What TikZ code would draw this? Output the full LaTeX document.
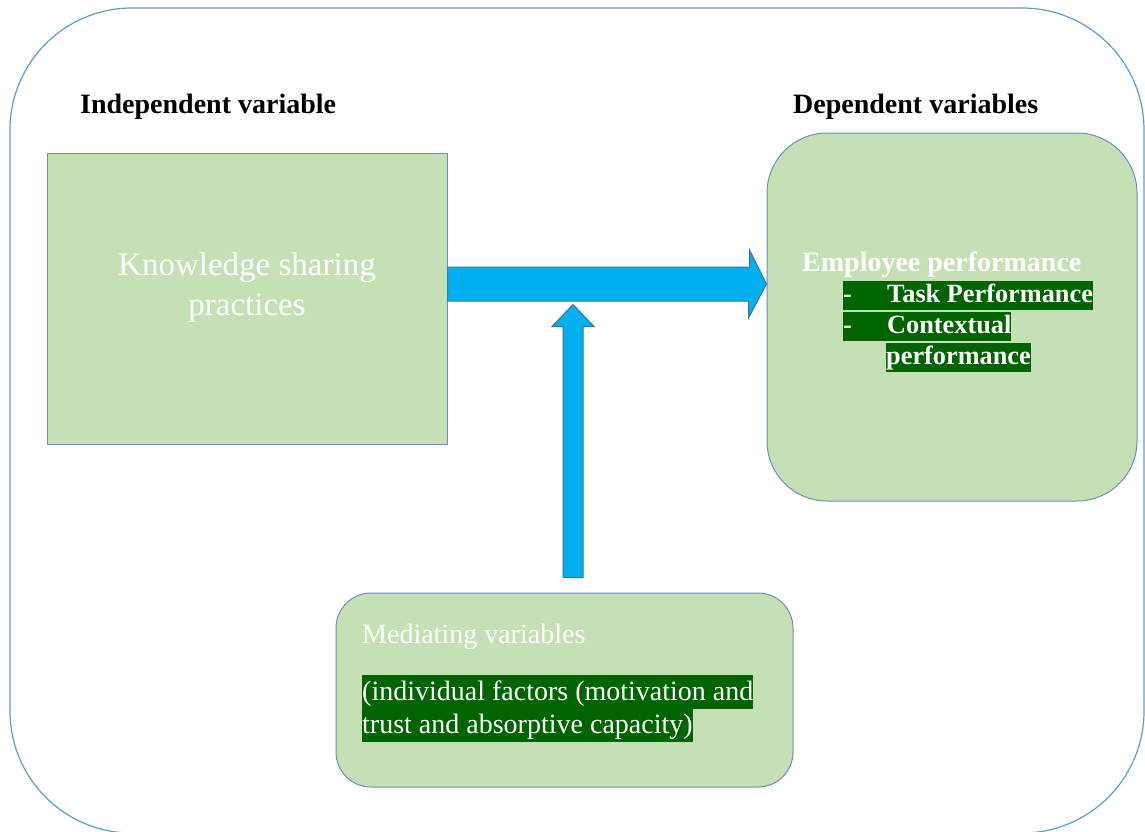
\documentclass[tikz,border=0pt]{standalone}
\usepackage{fontspec}
\setmainfont{Liberation Serif}
\usetikzlibrary{calc}
\definecolor{boxgreen}{HTML}{C5E0B4}
\definecolor{boxline}{HTML}{6C8EBA}
\definecolor{frameblue}{HTML}{5B9BD5}
\definecolor{arrowblue}{HTML}{00B0F0}
\definecolor{arrowline}{HTML}{41719C}
\definecolor{hlgreen}{HTML}{006400}
\tikzstyle{varbox}=[draw=boxline,fill=boxgreen,line width=1pt,inner sep=0pt]
\tikzstyle{heading}=[font=\fontsize{28}{32}\selectfont\bfseries,anchor=base west,inner sep=0pt]
\tikzstyle{plain}=[text=white,font=\fontsize{28}{32}\selectfont,anchor=base west,inner sep=0pt]
\tikzstyle{marked}=[plain,fill=hlgreen,text height=21pt,text depth=8pt]
\tikzstyle{blockarrow}=[draw=arrowline,fill=arrowblue,line width=1pt,line join=miter]

\begin{document}
\begin{tikzpicture}[x=1pt,y=-1pt]
    \useasboundingbox (0,0) rectangle (1145,831);
    \clip (0,0) rectangle (1145,831);
    % Draw the outer frame
    \draw[frameblue,line width=1.2pt,rounded corners=122pt] (10,8) rectangle (1144,833);
    % First we draw the variable boxes
    \node[varbox,minimum width=400pt,minimum height=291pt] (know) at (247,298.5) {};
    \node[varbox,rounded corners=60pt,minimum width=370pt,minimum height=368pt] (perf) at (952,317) {};
    \node[varbox,rounded corners=35pt,minimum width=457pt,minimum height=194pt] (med) at (564.5,690) {};
    % Headings and texts
    \node[heading] (indep) at (80,113) {Independent variable};
    \node[heading] (dep) at (793,113) {Dependent variables};
    \node[text=white,font=\fontsize{33}{40}\selectfont,align=center] (knowtxt) at (247,288) {Knowledge sharing\\practices};
    \node[plain,font=\fontsize{28}{32}\selectfont\bfseries] (perftxt) at (802,271) {Employee performance};
    \foreach \pos/\name/\txt in {{(843,302)/task/{\makebox[44pt][l]{-}Task Performance}},
                                 {(843,333)/ctx/{\makebox[44pt][l]{-}Contextual}},
                                 {(886,364)/ctxb/{performance}}}
        \node[marked,font=\fontsize{26.3}{30}\selectfont\bfseries] (\name) at \pos {\txt};
    \node[plain] (medtxt) at (362,643) {Mediating variables};
    \foreach \pos/\name/\txt in {{(362,700)/fac/{(individual factors (motivation and}},
                                 {(362,733)/trust/{trust and absorptive capacity)}}}
        \node[marked,text height=25pt,text depth=9pt] (\name) at \pos {\txt};
    % Connect boxes with block arrows
    \draw[blockarrow] ($(know.east)+(0,-31.5)$) -- ++(302,0) -- ++(0,-17) -- ($(perf.west)+(0,-33)$)
        -- ++(-18,34) -- ++(0,-17) -- ($(know.east)+(0,2.5)$) -- cycle;
    \draw[blockarrow] ($(med.north)+(-1.5,-15)$) -- ++(0,-251) -- ++(-11,0) -- ($(med.north)+(8.5,-288)$)
        -- ++(21,22) -- ++(-11,0) -- ++(0,251) -- cycle;
\end{tikzpicture}
\end{document}
